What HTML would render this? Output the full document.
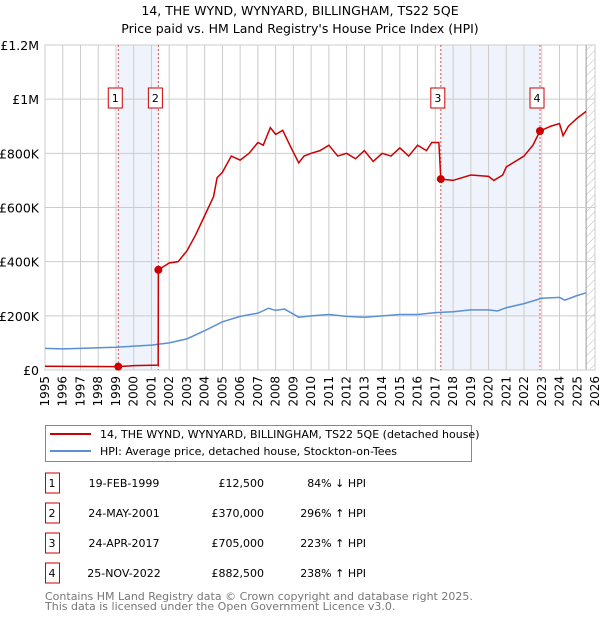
<!DOCTYPE html>
<html><head><meta charset="utf-8"><style>
body{margin:0;background:#fff;font-family:"DejaVu Sans","Liberation Sans",sans-serif;}
svg text{font-family:"DejaVu Sans","Liberation Sans",sans-serif;}
</style></head><body>
<svg id="c" width="600" height="620" xmlns="http://www.w3.org/2000/svg">
<defs><pattern id="hatch" width="6" height="6" patternUnits="userSpaceOnUse" patternTransform="rotate(45)"><line x1="0" y1="0" x2="0" y2="6" stroke="#bbb" stroke-width="1"/></pattern></defs>
<text x="300" y="15" text-anchor="middle" font-size="12.5">14, THE WYND, WYNYARD, BILLINGHAM, TS22 5QE</text>
<text x="300" y="33" text-anchor="middle" font-size="12.5">Price paid vs. HM Land Registry's House Price Index (HPI)</text>
<g id="plot"></g>
<g>
<rect x="45.5" y="425.5" width="426" height="36" fill="#fff" stroke="#888"/>
<line x1="50" y1="434" x2="91" y2="434" stroke="#cc0000" stroke-width="2"/>
<text x="100" y="438" font-size="11">14, THE WYND, WYNYARD, BILLINGHAM, TS22 5QE (detached house)</text>
<line x1="50" y1="451" x2="91" y2="451" stroke="#5b8fd6" stroke-width="2"/>
<text x="100" y="455" font-size="11">HPI: Average price, detached house, Stockton-on-Tees</text>
</g>
<g id="table" font-size="11"></g>
<text x="45" y="600" font-size="11" fill="#777">Contains HM Land Registry data © Crown copyright and database right 2025.</text>
<text x="45" y="610" font-size="11" fill="#777">This data is licensed under the Open Government Licence v3.0.</text>
</svg>
<script>
const hpiYears=[1995,1996,1997,1998,1999,2000,2001,2002,2003,2004,2005,2006,2007,2007.6,2008,2008.5,2009.3,2010,2011,2012,2013,2014,2015,2016,2017,2018,2019,2020,2020.5,2021,2022,2023,2024,2024.3,2025,2025.5];
const hpiValues=[80000,78000,80000,82000,84000,88000,92000,100000,115000,145000,178000,198000,210000,228000,220000,225000,195000,200000,205000,198000,195000,200000,205000,205000,212000,215000,222000,222000,218000,230000,245000,265000,268000,258000,275000,285000];
const redYears=[1995,1999.13,2000,2001.38,2001.39,2002,2002.5,2003,2003.5,2004,2004.5,2004.7,2005,2005.5,2006,2006.5,2007,2007.3,2007.7,2008,2008.4,2008.8,2009.3,2009.6,2010,2010.5,2011,2011.5,2012,2012.5,2013,2013.5,2014,2014.5,2015,2015.5,2016,2016.5,2016.8,2017.2,2017.31,2018,2019,2020,2020.3,2020.8,2021,2022,2022.5,2022.9,2023.5,2024,2024.2,2024.5,2025,2025.5];
const redValues=[14000,12500,16000,18000,370000,395000,400000,440000,500000,570000,640000,710000,730000,790000,775000,800000,840000,830000,895000,870000,885000,830000,765000,790000,800000,810000,830000,790000,800000,780000,810000,770000,800000,790000,820000,790000,830000,810000,840000,840000,705000,700000,720000,715000,700000,720000,750000,790000,830000,882500,900000,910000,865000,900000,930000,955000];
const saleYears=[1999.13,2001.39,2017.31,2022.9];
const saleValues=[12500,370000,705000,882500];
const saleLabels=["1","2","3","4"];
const saleDates=["19-FEB-1999","24-MAY-2001","24-APR-2017","25-NOV-2022"];
const salePrices=["£12,500","£370,000","£705,000","£882,500"];
const saleHpi=["84% ↓ HPI","296% ↑ HPI","223% ↑ HPI","238% ↑ HPI"];
const yTicks=[0,200000,400000,600000,800000,1000000,1200000];
const yTickLabels=["£0","£200K","£400K","£600K","£800K","£1M","£1.2M"];
const xTicks=[];for(let y=1995;y<=2026;y++)xTicks.push(y);

const X0=45,X1=595,Y0=370,Y1=45;
const xs=y=>X0+(y-1995)/(2026-1995)*(X1-X0);
const ys=v=>Y0-v/1200000*(Y0-Y1);
const NS="http://www.w3.org/2000/svg";
const plot=document.getElementById('plot');
function mk(tag,attrs,parent){const e=document.createElementNS(NS,tag);for(const k in attrs)e.setAttribute(k,attrs[k]);(parent||plot).appendChild(e);return e;}
for(let i=0;i<saleYears.length;i+=2){
 const r=mk('rect',{x:xs(saleYears[i]),y:Y1,width:xs(saleYears[i+1])-xs(saleYears[i]),height:Y0-Y1,fill:'#eef3fc'});
 
 
}
const h=mk('rect',{x:xs(2025.5),y:Y1,width:X1-xs(2025.5),height:Y0-Y1,fill:'url(#hatch)'});


mk('line',{x1:xs(2025.5),y1:Y1,x2:xs(2025.5),y2:Y0,stroke:'#999'});
xTicks.forEach(t=>{
 const l=mk('line',{x1:xs(t),y1:Y1,x2:xs(t),y2:Y0,stroke:'#ccc'});
 
 
 const tx=mk('text',{x:0,y:0,'font-size':12,'text-anchor':'end',transform:`translate(${xs(t)+4},${Y0+6}) rotate(-90)`});
 tx.textContent=t;
 
 
});
yTicks.forEach((t,i)=>{
 const l=mk('line',{x1:X0,y1:ys(t),x2:X1,y2:ys(t),stroke:'#ccc'});
 
 
 const tx=mk('text',{x:X0-6,y:ys(t)+5,'font-size':12.5,'text-anchor':'end'});
 tx.textContent=yTickLabels[i];
 
 
});
mk('rect',{x:X0,y:Y1,width:X1-X0,height:Y0-Y1,fill:'none',stroke:'#ccc'});
saleYears.forEach((y,i)=>{
 const l=mk('line',{x1:xs(y),y1:Y1,x2:xs(y),y2:Y0,stroke:'#e05050','stroke-dasharray':'2,2'});
 
 
 const b=mk('rect',{x:xs(y)-10,y:88,width:14,height:20,fill:'#fff',stroke:'#cc0000'});
 
 
 const t=mk('text',{x:xs(y)-3,y:102,'font-size':11,'text-anchor':'middle'});
 t.textContent=saleLabels[i];
 
 
});
const hp=mk('polyline',{points:hpiYears.map((y,i)=>xs(y)+','+ys(hpiValues[i])).join(' '),fill:'none',stroke:'#5b8fd6','stroke-width':1.5});


const rp=mk('polyline',{points:redYears.map((y,i)=>xs(y)+','+ys(redValues[i])).join(' '),fill:'none',stroke:'#cc0000','stroke-width':1.5});


saleYears.forEach((y,i)=>{
 const c=mk('circle',{cx:xs(y),cy:ys(saleValues[i]),r:4,fill:'#cc0000'});
 
 
});
const tb=document.getElementById('table');
saleLabels.forEach((s,i)=>{
 const cy=483+i*30;
 const b=mk('rect',{x:45.5,y:cy-10,width:14,height:20,fill:'#fff',stroke:'#cc0000'},tb);
 
 
 const vals=[[s,52,'middle'],[saleDates[i],124,'middle'],[salePrices[i],264,'end'],[saleHpi[i],366,'end']];
 vals.forEach(v=>{const t=mk('text',{x:v[1],y:cy+4,'text-anchor':v[2]},tb);t.textContent=v[0];
  
  });
});
</script>
</body></html>
